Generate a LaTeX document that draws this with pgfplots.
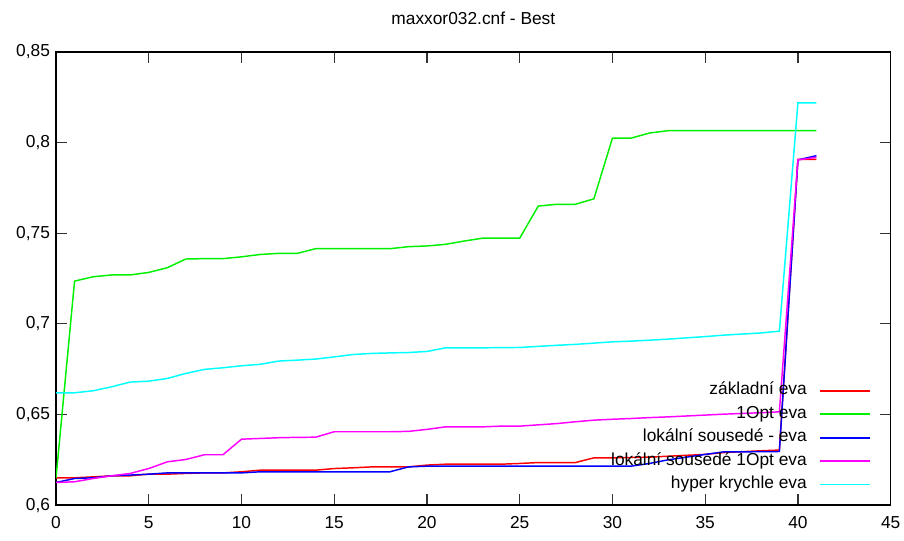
\documentclass[border=0pt]{standalone}
\usepackage{pgfplots}
\pgfplotsset{compat=1.18}
\usepackage{fontspec}
\setmainfont{Liberation Sans}
\definecolor{cred}{RGB}{255,0,0}
\definecolor{cgreen}{RGB}{0,240,0}
\definecolor{cblue}{RGB}{0,0,255}
\definecolor{cmag}{RGB}{255,0,255}
\definecolor{ccyan}{RGB}{0,255,255}
\begin{document}
\begin{tikzpicture}
\path[use as bounding box] (-42pt,-26.25pt) rectangle (635.8pt,378.75pt);
\begin{axis}[
  at={(0,0)}, anchor=south west,
  scale only axis, width=625.8pt, height=339.75pt,
  xmin=0, xmax=45, ymin=0.6, ymax=0.85,
  xtick={0,5,...,45}, ytick={0.6,0.65,0.7,0.75,0.8,0.85},
  tick align=inside, major tick length=8pt,
  xtick pos=both, ytick pos=both,
  axis line style={black, line width=1pt},
  tick style={black!80, line width=0.9pt},
  /pgf/number format/.cd, use comma, fixed, precision=2, assume math mode=true,
  /pgfplots/.cd,
  ticklabel style={font=\fontsize{13}{13}\selectfont},
  yticklabel style={xshift=-1pt},
  xticklabel style={yshift=-5pt},
  title={maxxor032.cnf - Best},
  title style={font=\fontsize{13}{13}\selectfont, yshift=11pt},
  legend plot pos=right,
  legend cell align=right,
  legend image code/.code={\draw[#1, line width=1.4pt] (0pt,0pt) -- (37.5pt,0pt);},
  legend style={draw=none, fill=none, at={(axis description cs:1,0)}, anchor=south east,
    xshift=-11.75pt, yshift=7pt, font=\fontsize{13}{13}\selectfont,
    nodes={inner sep=0pt, text height=9.5pt, text depth=3pt},
    row sep=5.1pt, column sep=9pt},
  every axis plot/.append style={line width=1.1pt},
]
\addplot[cred] coordinates {(0,0.6151)(1,0.6151)(2,0.6156)(3,0.6162)(4,0.6162)(5,0.6171)(6,0.6171)(7,0.6175)(8,0.6178)(9,0.6178)(10,0.6184)(11,0.6193)(12,0.6193)(13,0.6193)(14,0.6193)(15,0.6202)(16,0.6206)(17,0.6211)(18,0.6211)(19,0.6211)(20,0.6221)(21,0.6226)(22,0.6226)(23,0.6226)(24,0.6226)(25,0.623)(26,0.6235)(27,0.6235)(28,0.6235)(29,0.6261)(30,0.6261)(31,0.6263)(32,0.6265)(33,0.627)(34,0.6275)(35,0.628)(36,0.629)(37,0.6295)(38,0.63)(39,0.6304)(40,0.7908)(41,0.7908)};
\addlegendentry{základní eva}
\addplot[cgreen] coordinates {(0,0.615)(1,0.7236)(2,0.726)(3,0.727)(4,0.727)(5,0.7284)(6,0.731)(7,0.7358)(8,0.736)(9,0.736)(10,0.737)(11,0.7383)(12,0.7389)(13,0.7389)(14,0.7415)(15,0.7415)(16,0.7415)(17,0.7415)(18,0.7415)(19,0.7426)(20,0.743)(21,0.7439)(22,0.7457)(23,0.7473)(24,0.7473)(25,0.7473)(26,0.765)(27,0.766)(28,0.766)(29,0.769)(30,0.8025)(31,0.8025)(32,0.8053)(33,0.8066)(34,0.8066)(35,0.8066)(36,0.8066)(37,0.8066)(38,0.8066)(39,0.8066)(40,0.8066)(41,0.8066)};
\addlegendentry{1Opt eva}
\addplot[cblue] coordinates {(0,0.6125)(1,0.6147)(2,0.6151)(3,0.6162)(4,0.6166)(5,0.6171)(6,0.6178)(7,0.6178)(8,0.6178)(9,0.6178)(10,0.6178)(11,0.6184)(12,0.6184)(13,0.6184)(14,0.6184)(15,0.6184)(16,0.6184)(17,0.6184)(18,0.6184)(19,0.6211)(20,0.6215)(21,0.6215)(22,0.6215)(23,0.6215)(24,0.6215)(25,0.6215)(26,0.6215)(27,0.6215)(28,0.6215)(29,0.6215)(30,0.6215)(31,0.6215)(32,0.623)(33,0.625)(34,0.6265)(35,0.628)(36,0.6294)(37,0.6294)(38,0.6295)(39,0.6296)(40,0.7905)(41,0.7928)};
\addlegendentry{lokální sousedé - eva}
\addplot[cmag] coordinates {(0,0.6125)(1,0.6129)(2,0.6147)(3,0.6162)(4,0.6175)(5,0.6202)(6,0.6239)(7,0.6252)(8,0.6278)(9,0.6278)(10,0.6364)(11,0.6368)(12,0.6372)(13,0.6374)(14,0.6375)(15,0.6405)(16,0.6405)(17,0.6405)(18,0.6405)(19,0.6407)(20,0.6418)(21,0.6432)(22,0.6432)(23,0.6432)(24,0.6436)(25,0.6436)(26,0.6443)(27,0.645)(28,0.646)(29,0.6469)(30,0.6474)(31,0.6478)(32,0.6483)(33,0.6487)(34,0.6492)(35,0.6497)(36,0.6502)(37,0.6506)(38,0.651)(39,0.6515)(40,0.7905)(41,0.7919)};
\addlegendentry{lokální sousedé 1Opt eva}
\addplot[ccyan] coordinates {(0,0.662)(1,0.662)(2,0.6631)(3,0.6653)(4,0.6679)(5,0.6684)(6,0.6699)(7,0.6727)(8,0.6749)(9,0.6758)(10,0.6769)(11,0.6777)(12,0.6795)(13,0.68)(14,0.6806)(15,0.6818)(16,0.6831)(17,0.6837)(18,0.684)(19,0.6842)(20,0.6848)(21,0.6868)(22,0.6868)(23,0.6868)(24,0.6869)(25,0.687)(26,0.6876)(27,0.6882)(28,0.6887)(29,0.6894)(30,0.6901)(31,0.6905)(32,0.691)(33,0.6916)(34,0.6923)(35,0.693)(36,0.6938)(37,0.6944)(38,0.695)(39,0.696)(40,0.822)(41,0.822)};
\addlegendentry{hyper krychle eva}
\end{axis}
\end{tikzpicture}
\end{document}
